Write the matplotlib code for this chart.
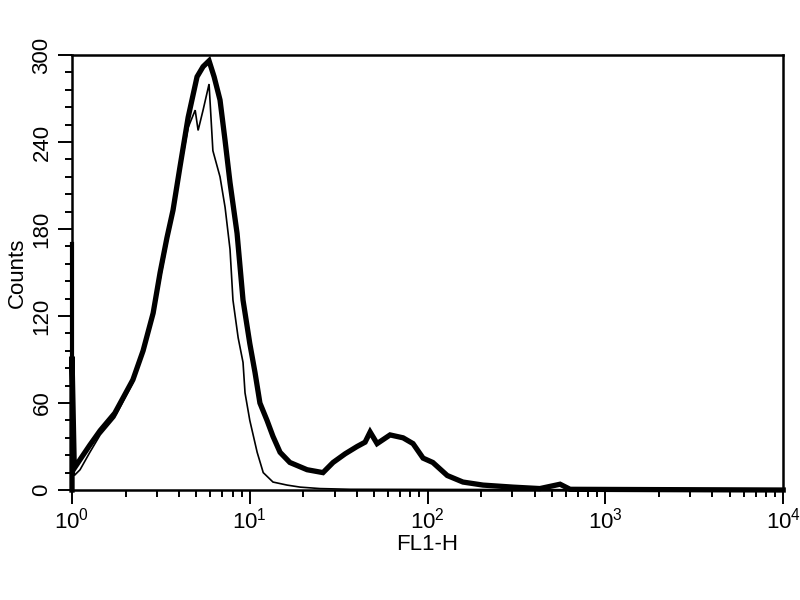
import math
import matplotlib
matplotlib.use("Agg")
import matplotlib.pyplot as plt
from matplotlib.ticker import FixedLocator, LogLocator, FuncFormatter, NullFormatter

# -------------------------------
# Data
# -------------------------------
thick_x = [1.0, 1.0, 1.03, 1.11, 1.26, 1.44, 1.74, 2.2, 2.51, 2.86, 3.13, 3.42, 3.70,
           4.05, 4.50, 5.05, 5.46, 5.90, 6.3, 6.8, 7.26, 7.74, 8.48, 9.16, 10.0,
           10.7, 11.4, 12.5, 13.5, 14.8, 16.8, 21.0, 25.8, 29.4, 34.4, 40.1, 44.5,
           47.5, 52.0, 61.5, 72.8, 82.8, 94.3, 107, 129, 158, 205, 302, 428, 556,
           633, 1780, 10000]
thick_y = [0, 92, 15, 21, 31, 41, 53, 76, 96, 122, 150, 174, 193,
           223, 257, 285, 292, 296, 285, 269, 241, 212, 177, 131, 101,
           81, 60, 48, 37, 26, 19, 14, 12, 19, 25, 30, 33,
           40, 32, 38, 36, 32, 22, 19, 10, 5.5, 3.4, 2, 1, 4,
           0.5, 0.3, 0]

thin_x = [1.0, 1.0, 1.03, 1.11, 1.26, 1.44, 1.74, 2.2, 2.86, 3.42, 4.05, 4.50, 4.93,
          5.12, 5.46, 5.90, 6.2, 6.8, 7.26, 7.74, 8.04, 8.6, 9.16, 9.4, 10.0,
          11.0, 11.9, 13.5, 16.2, 19.2, 24.8, 36.7, 10000]
thin_y = [0, 170, 10, 14, 26, 38, 50, 74, 120, 170, 220, 250, 262,
          248, 262, 280, 234, 216, 195, 166, 131, 105, 88, 67, 48,
          26, 12, 5.5, 3.4, 2, 1, 0.5, 0]

y_ticks = [0, 60, 120, 180, 240, 300]

# -------------------------------
# Font
# -------------------------------
plt.rcParams["font.family"] = ["Liberation Sans", "DejaVu Sans"]
plt.rcParams["mathtext.fontset"] = "custom"
plt.rcParams["mathtext.rm"] = "Liberation Sans"
plt.rcParams["mathtext.it"] = "Liberation Sans"

# -------------------------------
# Plot
# -------------------------------
fig = plt.figure(figsize=(8, 6), dpi=100)
ax = fig.add_axes([0.09, 0.1833, 0.889, 0.725])

# first channel pile-up spike sits on the left spine, so draw lines above it
ax.plot(thin_x, thin_y, color="black", lw=1.2, solid_joinstyle="miter",
        zorder=3, clip_on=False)
ax.plot(thick_x, thick_y, color="black", lw=3.8, solid_joinstyle="miter",
        zorder=3, clip_on=False)
ax.plot(thin_x[:2], thin_y[:2], color="black", lw=3.0, zorder=3, clip_on=False)

ax.set_xscale("log")
ax.set_xlim(1, 1e4)
ax.set_ylim(0, 300)

ax.yaxis.set_major_locator(FixedLocator(y_ticks))
ax.yaxis.set_minor_locator(FixedLocator([v for v in range(0, 301, 12) if v % 60]))
ax.xaxis.set_major_locator(LogLocator(base=10))
ax.xaxis.set_minor_locator(LogLocator(base=10, subs=range(2, 10)))
ax.xaxis.set_major_formatter(FuncFormatter(lambda v, p: r"$10^{%d}$" % round(math.log10(v))))
ax.xaxis.set_minor_formatter(NullFormatter())

ax.tick_params(which="major", length=10, width=1.4, labelsize=16, direction="out", pad=3)
ax.tick_params(which="minor", length=5, width=1.4, direction="out")
ax.tick_params(axis="y", pad=4)
for lbl in ax.get_yticklabels():
    lbl.set_rotation(90)
    lbl.set_va("center")

for s in ax.spines.values():
    s.set_linewidth(1.8)

ax.set_xlabel("FL1-H", fontsize=16, labelpad=0)
ax.set_ylabel("Counts", fontsize=16, labelpad=3)

fig.savefig("out.png", dpi=100)
